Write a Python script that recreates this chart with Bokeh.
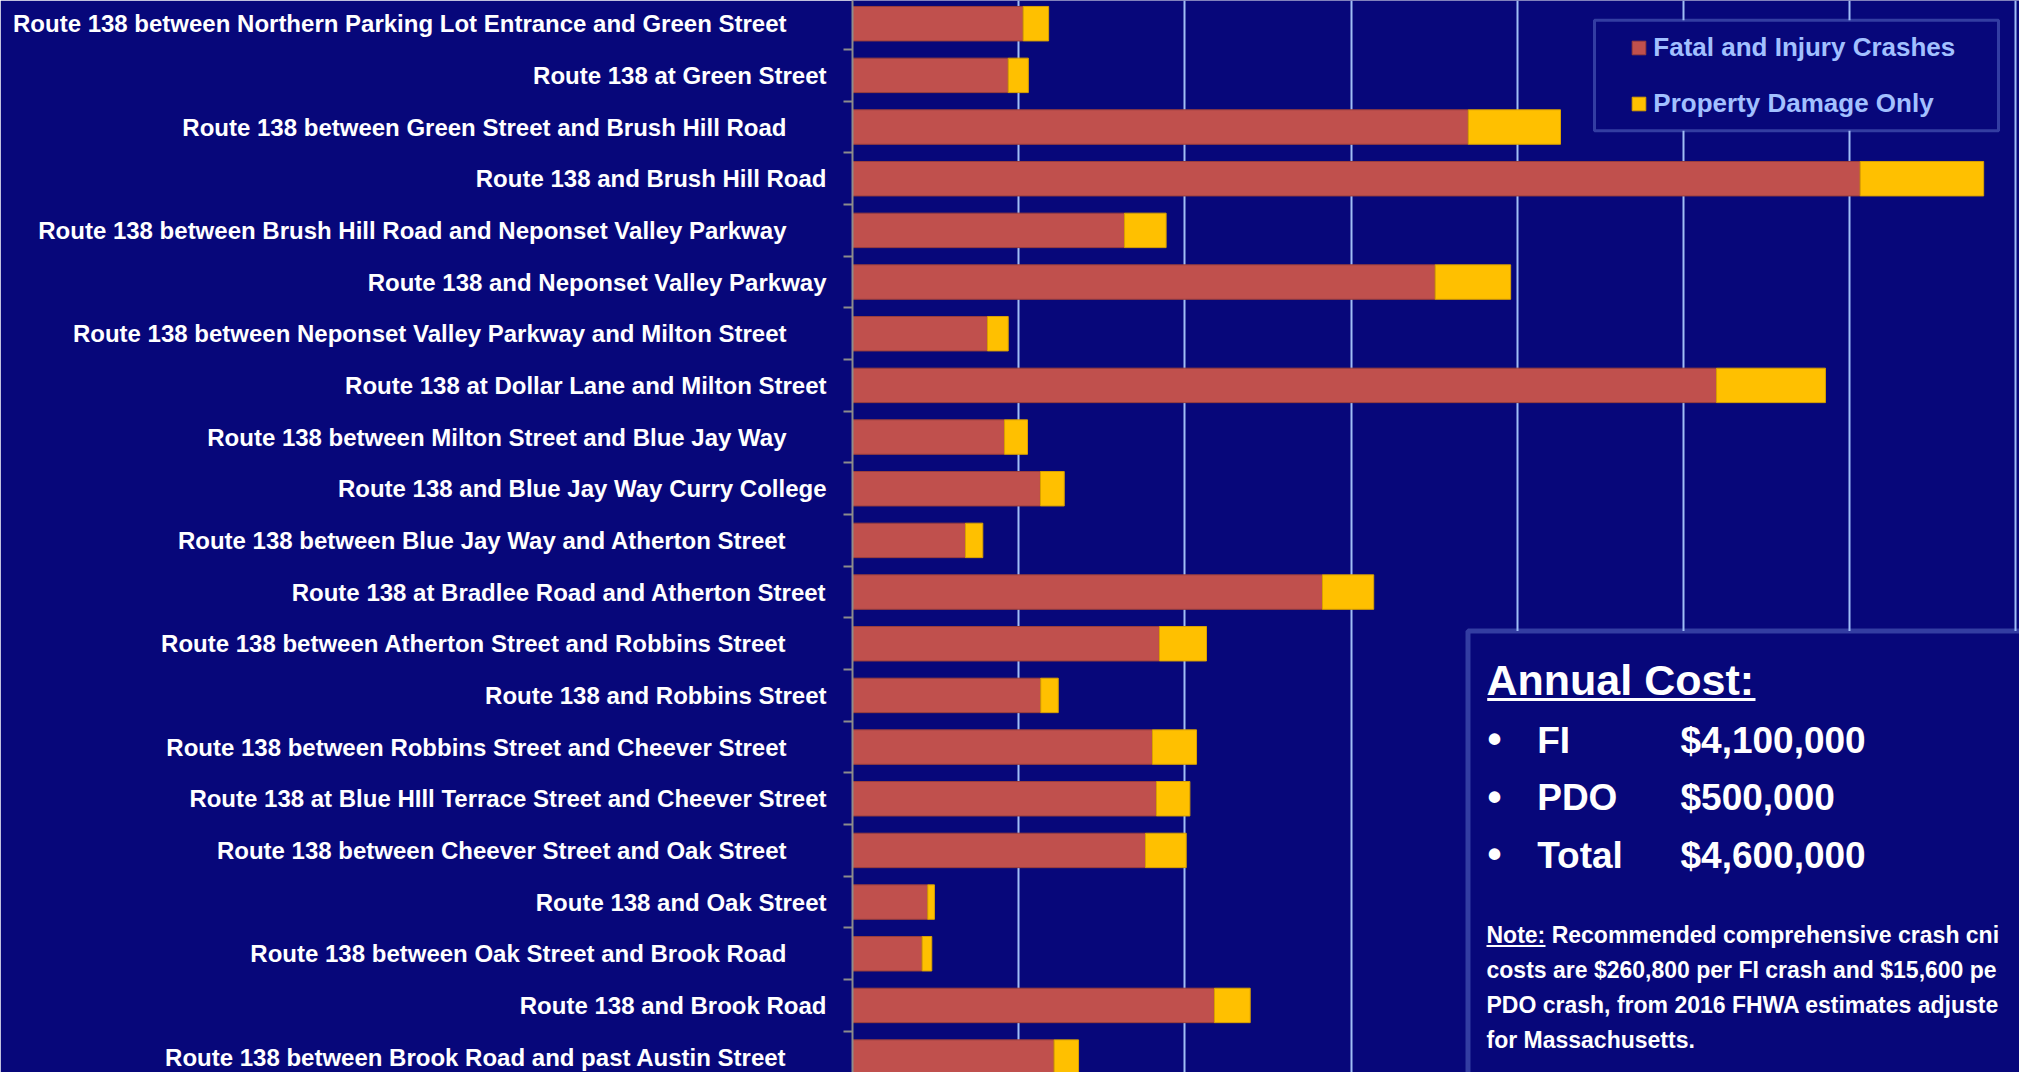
from bokeh.plotting import figure
from bokeh.models import (ColumnDataSource, Range1d, FixedTicker, Legend, LegendItem,
                          BoxAnnotation, Label)
from bokeh.embed import file_html
from bokeh.resources import INLINE

# ---------------- data ----------------
locations = [
    "Route 138 between Northern Parking Lot Entrance and Green Street",
    "Route 138 at Green Street",
    "Route 138 between Green Street and Brush Hill Road",
    "Route 138 and Brush Hill Road",
    "Route 138 between Brush Hill Road and Neponset Valley Parkway",
    "Route 138 and Neponset Valley Parkway",
    "Route 138 between Neponset Valley Parkway and Milton Street",
    "Route 138 at Dollar Lane and Milton Street",
    "Route 138 between Milton Street and Blue Jay Way",
    "Route 138 and Blue Jay Way Curry College",
    "Route 138 between Blue Jay Way and Atherton Street",
    "Route 138 at Bradlee Road and Atherton Street",
    "Route 138 between Atherton Street and Robbins Street",
    "Route 138 and Robbins Street",
    "Route 138 between Robbins Street and Cheever Street",
    "Route 138 at Blue HIll Terrace Street and Cheever Street",
    "Route 138 between Cheever Street and Oak Street",
    "Route 138 and Oak Street",
    "Route 138 between Oak Street and Brook Road",
    "Route 138 and Brook Road",
    "Route 138 between Brook Road and past Austin Street",
]
fi_cost = [102700, 93700, 370500, 606300, 163700, 350600, 81200, 519900, 91500, 113100,
           68000, 282800, 184700, 113300, 180500, 182900, 176300, 45300, 41900, 217800, 121300]
pdo_cost = [15300, 12100, 55500, 74300, 25000, 45400, 12500, 65500, 13800, 14300,
            10400, 30800, 28300, 10500, 26500, 20100, 24500, 4000, 5800, 21500, 14700]
series_names = ["Fatal and Injury Crashes", "Property Damage Only"]
grid_values = [100000, 200000, 300000, 400000, 500000, 600000, 700000]
cost_title = "Annual Cost:"
cost_items = ["FI", "PDO", "Total"]
cost_values = ["$4,100,000", "$500,000", "$4,600,000"]
note_lines = [
    "Note: Recommended comprehensive crash cni",
    "costs are $260,800 per FI crash and $15,600 pe",
    "PDO crash, from 2016 FHWA estimates adjuste",
    "for Massachusetts.",
]

# ---------------- styles / layout ----------------
BG = "#07077A"
RED, RED_EDGE = "#C0504D", "#9A3F3D"
YEL, YEL_EDGE = "#FFC000", "#D9A000"
GRID = "#A0BEF5"
BOXLINE = "#9DBDFF"
LEGTEXT = "#A2C0FF"
AXIS = "#8C8C8C"
FONT = "Liberation Sans"

WIN_W, WIN_H = 2019, 1072
FRAME_LEFT = 852          # page x of the value axis
PX_PER_100K = 166.2       # page px per $100,000
ROW_PX = 51.67            # page px per category
ROW0_Y = 23.2             # page y of first category centre
BASELINE_FIX = 0.32       # Label baseline correction (fraction of font size)

x_end = (WIN_W - FRAME_LEFT) / PX_PER_100K * 100000
y_top = (0 - ROW0_Y) / ROW_PX
y_bottom = (WIN_H - ROW0_Y) / ROW_PX


def dx(px):
    return (px - FRAME_LEFT) / PX_PER_100K * 100000


def dy(py):
    return (py - ROW0_Y) / ROW_PX


n = len(locations)
src = ColumnDataSource(dict(y=list(range(n)), fi=fi_cost, pdo=pdo_cost))

p = figure(width=WIN_W, height=WIN_H, output_backend="svg", toolbar_location=None,
           x_range=Range1d(0, x_end), y_range=Range1d(y_bottom, y_top),
           x_axis_location=None,
           background_fill_color=BG, border_fill_color=BG, outline_line_color=None,
           min_border_left=FRAME_LEFT, min_border_right=0,
           min_border_top=0, min_border_bottom=0)

rs = p.hbar_stack(["fi", "pdo"], y="y", height=0.667, source=src,
                  fill_color=[RED, YEL], line_color=[RED_EDGE, YEL_EDGE], line_width=1)

# grid
p.xgrid.ticker = FixedTicker(ticks=grid_values)
p.xgrid.grid_line_color = GRID
p.xgrid.grid_line_width = 2
p.ygrid.grid_line_color = None

# category axis
ax = p.yaxis[0]
ax.ticker = FixedTicker(ticks=list(range(n)), minor_ticks=[i - 0.5 for i in range(n + 1)])
ax.major_label_overrides = {
    i: (lab + "\u00a0" * 6 if " between " in lab else lab) for i, lab in enumerate(locations)
}
ax.major_tick_line_color = None
ax.major_tick_out = 0
ax.major_tick_in = 0
ax.minor_tick_line_color = AXIS
ax.minor_tick_line_width = 2
ax.minor_tick_out = 9
ax.minor_tick_in = 0
ax.axis_line_color = AXIS
ax.axis_line_width = 2
ax.major_label_standoff = 17
ax.major_label_text_color = "white"
ax.major_label_text_font = FONT
ax.major_label_text_font_style = "bold"
ax.major_label_text_font_size = "24px"

# legend frame
p.add_layout(BoxAnnotation(left=dx(1594), right=dx(1998), top=dy(19.8), bottom=dy(130.2),
                           fill_color=BG, fill_alpha=1, line_color=BOXLINE, line_width=3,
                           level="underlay"))
legend = Legend(items=[LegendItem(label=series_names[0], renderers=[rs[0]]),
                       LegendItem(label=series_names[1], renderers=[rs[1]])],
                location=(1630.3 - FRAME_LEFT, WIN_H - 119), padding=0, margin=0,
                spacing=25, glyph_width=17, glyph_height=17, label_standoff=6,
                border_line_color=None, background_fill_alpha=0,
                label_text_font=FONT, label_text_font_style="bold",
                label_text_font_size="26px", label_text_color=LEGTEXT)
p.add_layout(legend)

# annual cost box
p.add_layout(BoxAnnotation(left=dx(1467.5), right=dx(2200), top=dy(630.5), bottom=dy(1200),
                           fill_color=BG, fill_alpha=1, line_color=BOXLINE, line_width=5,
                           level="underlay"))


def label(px, baseline, text, size):
    py = baseline - BASELINE_FIX * size
    p.add_layout(Label(x=dx(px), y=dy(py), text=text, text_font=FONT,
                       text_font_size=f"{size}px", text_font_style="bold", text_color="white",
                       text_baseline="alphabetic", text_align="left"))


def underline(x0, x1, y0, y1):
    p.add_layout(BoxAnnotation(left=dx(x0), right=dx(x1), top=dy(y0), bottom=dy(y1),
                               fill_color="white", fill_alpha=1, line_color=None))


label(1486, 693.3, cost_title, 43)
underline(1486.7, 1755, 697.5, 700.5)
for i, (item, val) in enumerate(zip(cost_items, cost_values)):
    base = 751.7 + i * 57.5
    label(1487, base, "\u2022", 40)
    label(1536.7, base, item, 37)
    label(1680, base, val, 37)

for i, line in enumerate(note_lines):
    label(1486, 941.7 + i * 35, line, 23)
underline(1486, 1545, 944.5, 946.5)

open("out.html", "w").write(file_html(p, INLINE))
